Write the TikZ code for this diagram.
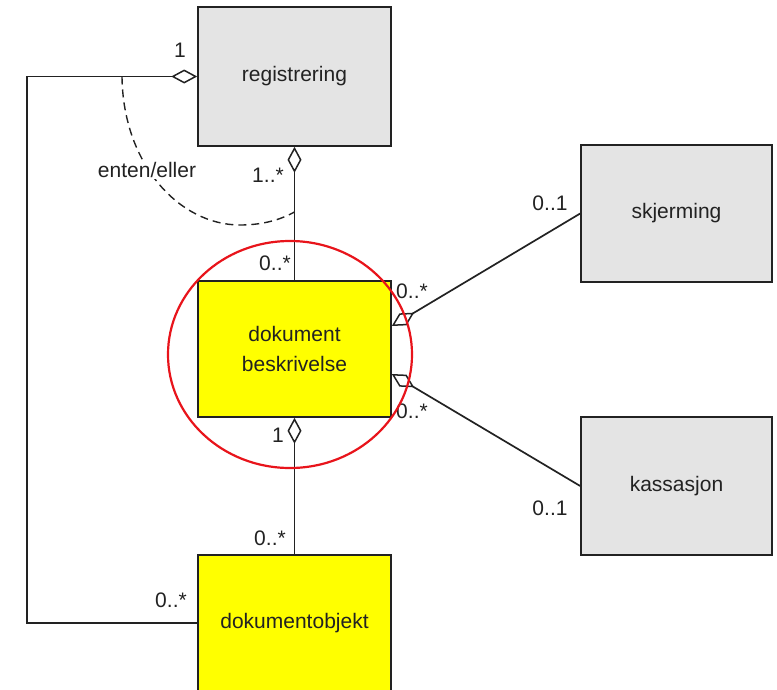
\documentclass[tikz,border=0pt]{standalone}
\usepackage{fontspec}
\setmainfont{Liberation Sans}
\usetikzlibrary{arrows.meta,calc}
\definecolor{edge}{HTML}{222222}
\definecolor{boxgrey}{HTML}{E4E4E4}
\definecolor{boxyellow}{HTML}{FFFF00}
\definecolor{ring}{HTML}{E8141B}
\begin{document}
\begin{tikzpicture}[x=1pt,y=-1pt,
  cls/.style={draw=edge, line width=1.6pt, minimum width=193pt, inner sep=0pt,
              align=center, text=edge, font=\fontsize{21}{30}\selectfont},
  grey/.style={cls, fill=boxgrey},
  yel/.style={cls, fill=boxyellow},
  mult/.style={inner sep=0pt, text=edge, font=\fontsize{21}{25}\selectfont},
  assoc/.style={draw=edge, line width=1.7pt},
  agg/.style={assoc, {Diamond[open, length=26pt, width=14pt, line width=1.5pt]}-}
]
\clip (0,0) rectangle (777,689);

% classes
\node[grey, minimum height=139pt] (reg) at (294.5,76.5) {registrering};
\node[grey, minimum width=191pt, minimum height=137pt] (skj) at (676.5,213.5) {skjerming};
\node[grey, minimum width=191pt, minimum height=138pt] (kas) at (676.5,486) {kassasjon};
\node[yel, minimum height=136pt] (db) at (294.5,349) {dokument\\beskrivelse};
\node[yel, minimum height=136pt] (dobj) at (294.5,623) {dokumentobjekt};

% associations
\coordinate (lcol) at (27,0);
\draw[agg] (reg.west) -- (reg.west -| lcol) |- (dobj.west);
\draw[agg] (reg.south) -- (db.north);
\draw[agg] (db.south) -- (dobj.north);
\draw[agg] ($(db.east)+(0,-23)$) -- (skj.west);
\draw[agg] ($(db.east)+(0,25)$) -- (kas.west);

% either/or constraint
\coordinate (ea) at (122,76.5);
\coordinate (eb) at (294.5,212);
\draw[assoc, line width=1.4pt, dash pattern=on 8pt off 5pt]
  (ea) .. controls (123,165) and (180,225) .. (240,225)
       .. controls (262,225) and (280,220) .. (eb);
\node[mult, fill=white, inner sep=1pt] (ee) at (147,170) {enten/eller};

% multiplicities
\node[mult] (m1) at (180,50) {1};
\node[mult] (m2) at (268,175) {1..*};
\node[mult] (m3) at (275,263) {0..*};
\node[mult] (m4) at (412,291) {0..*};
\node[mult] (m5) at (412,411) {0..*};
\node[mult] (m6) at (550,203) {0..1};
\node[mult] (m7) at (550,508) {0..1};
\node[mult] (m8) at (278,435) {1};
\node[mult] (m9) at (270,538) {0..*};
\node[mult] (m10) at (171,600) {0..*};

% highlight ring
\draw[ring, line width=2.2pt] (290,354.5) ellipse [x radius=122, y radius=113.5];
\end{tikzpicture}
\end{document}
